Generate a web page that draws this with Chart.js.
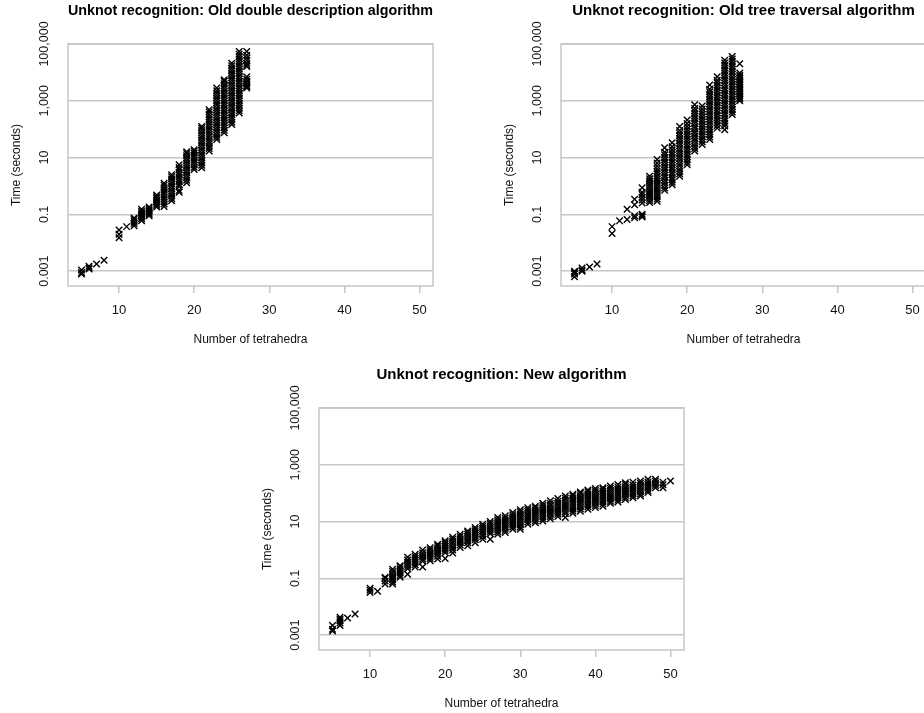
<!DOCTYPE html>
<html lang="en">
<head>
  <meta charset="UTF-8">
  <title>Unknot recognition timings</title>
  <script src="https://cdn.jsdelivr.net/npm/chart.js"></script>
  <style>
    body {
      margin: 0;
      padding: 0;
      background: #fff;
      width: 924px;
      height: 713px;
      overflow: hidden;
      position: relative;
    }
    canvas {
      position: absolute;
    }
    #chartDD { left: 0; top: 0; }
    #chartTT { left: 493px; top: 0; }
    #chartNew { left: 251px; top: 364px; }
  </style>
</head>
<body>
  <canvas id="chartDD" width="462" height="349"></canvas>
  <canvas id="chartTT" width="462" height="349"></canvas>
  <canvas id="chartNew" width="462" height="349"></canvas>
  <script>
    // axis ticks
    const xTickValues = [10, 20, 30, 40, 50];
    const yTickValues = [0.001, 0.1, 10, 1000, 100000];
    const yTickLabels = ['0.001', '0.1', '10', '1,000', '100,000'];

    // Old double description algorithm: tetrahedra count -> running times (s)
    const ddTets = [5, 6, 7, 8, 10, 11, 12, 13, 14, 15, 16, 17, 18, 19, 20, 21, 22, 23, 24, 25, 26, 27];
    const ddTimes = [
      [0.0008, 0.0009, 0.0011],
      [0.0012, 0.0013, 0.0015],
      [0.0018],
      [0.0024],
      [0.015, 0.02, 0.028],
      [0.037],
      [0.04, 0.048, 0.056, 0.066, 0.075],
      [0.06, 0.07, 0.08, 0.09, 0.1, 0.115, 0.13, 0.15],
      [0.09, 0.1, 0.11, 0.125, 0.14, 0.16, 0.18],
      [0.18, 0.21, 0.24, 0.28, 0.32, 0.37, 0.42, 0.48],
      [0.19, 0.23, 0.28, 0.34, 0.41, 0.5, 0.6, 0.72, 0.87, 1.05, 1.25],
      [0.3, 0.36, 0.44, 0.53, 0.65, 0.8, 0.97, 1.2, 1.45, 1.75, 2.1, 2.5],
      [0.6, 0.7, 0.95, 1.15, 1.4, 1.7, 2.05, 2.5, 3.0, 3.7, 4.5, 5.6],
      [1.3, 1.6, 1.95, 2.4, 2.9, 3.5, 4.3, 5.2, 6.3, 7.7, 9.4, 11.5, 14, 16],
      [3.8, 4.6, 5.6, 6.8, 8.2, 10, 12, 14.5, 17, 19],
      [4.4, 5.4, 6.6, 8, 9.8, 12, 14.5, 18, 22, 27, 33, 40, 49, 60, 73, 89, 108, 125],
      [17, 21, 25, 31, 37, 45, 55, 67, 82, 100, 122, 148, 180, 220, 270, 330, 400, 480],
      [43, 52, 63, 77, 94, 115, 140, 170, 208, 255, 310, 380, 460, 560, 690, 840, 1020, 1250, 1520, 1850, 2250, 2800],
      [75, 92, 112, 137, 167, 205, 250, 305, 370, 450, 550, 670, 820, 1000, 1220, 1490, 1820, 2220, 2700, 3300, 4000, 4900, 5500],
      [145, 177, 215, 262, 320, 390, 475, 580, 710, 865, 1055, 1290, 1570, 1920, 2340, 2850, 3480, 4250, 5180, 6320, 7700, 9400, 11500, 14000, 17000, 21000],
      [370, 450, 550, 670, 820, 1000, 1220, 1490, 1820, 2220, 2700, 3300, 4030, 4920, 6000, 7320, 8930, 10900, 13300, 16200, 19800, 24100, 29400, 35900, 43800, 54000],
      [2800, 3100, 3400, 3800, 4300, 4800, 5700, 7000, 16000, 18000, 21000, 26000, 32000, 40000, 54000]
    ];

    // Old tree traversal algorithm
    const ttTets = [5, 6, 7, 8, 10, 11, 12, 13, 14, 15, 16, 17, 18, 19, 20, 21, 22, 23, 24, 25, 26, 27];
    const ttTimes = [
      [0.00063, 0.0008, 0.0009, 0.001],
      [0.001, 0.0011, 0.0013],
      [0.0014],
      [0.0018],
      [0.021, 0.037],
      [0.059],
      [0.066, 0.15],
      [0.076, 0.09, 0.22, 0.34],
      [0.08, 0.09, 0.1, 0.25, 0.32, 0.4, 0.5, 0.6, 0.87],
      [0.26, 0.31, 0.37, 0.44, 0.52, 0.62, 0.74, 0.88, 1.05, 1.25, 1.5, 1.8, 2.2],
      [0.29, 0.35, 0.42, 0.5, 0.6, 0.72, 0.87, 1.05, 1.25, 1.5, 1.8, 2.2, 2.7, 3.3, 4, 5, 6.5, 8.5],
      [0.7, 0.85, 1.05, 1.3, 1.6, 2, 2.4, 3, 3.7, 4.5, 5.5, 6.8, 8.3, 10, 12.5, 15.5, 22],
      [1.1, 1.35, 1.65, 2, 2.5, 3, 3.7, 4.5, 5.5, 6.8, 8.3, 10, 12.5, 15, 19, 24, 33],
      [2.2, 2.7, 3.3, 4, 5, 6.1, 7.5, 9.2, 11.3, 13.9, 17, 21, 26, 32, 39, 48, 59, 72, 90, 125],
      [5.6, 6.9, 8.5, 10.4, 12.8, 15.7, 19.3, 23.7, 29, 36, 44, 54, 66, 81, 100, 125, 160, 210],
      [17, 21, 25, 31, 38, 46, 57, 70, 85, 105, 128, 157, 193, 237, 290, 356, 437, 540, 720],
      [29, 36, 44, 54, 66, 81, 99, 122, 150, 184, 225, 276, 339, 415, 510, 660],
      [43, 53, 65, 80, 98, 120, 148, 181, 222, 272, 334, 410, 500, 615, 755, 925, 1135, 1390, 1710, 2100, 2570, 3600],
      [110, 135, 165, 203, 249, 305, 374, 459, 563, 690, 847, 1040, 1275, 1560, 1920, 2350, 2890, 3540, 4350, 5300, 7000],
      [95, 130, 160, 196, 240, 295, 362, 444, 545, 668, 820, 1000, 1230, 1510, 1850, 2270, 2790, 3420, 4200, 5150, 6300, 7750, 9500, 11600, 14300, 17500, 21500, 27000],
      [330, 405, 497, 610, 748, 918, 1126, 1380, 1700, 2080, 2550, 3130, 3840, 4710, 5780, 7090, 8700, 10700, 13100, 16000, 19700, 24200, 29600, 36000],
      [1000, 1150, 1300, 1500, 1750, 2000, 2300, 2650, 3000, 3500, 4000, 4600, 5300, 6100, 7000, 8000, 9500, 20000]
    ];

    // New algorithm
    const newTets = [5, 6, 7, 8, 10, 11, 12, 13, 14, 15, 16, 17, 18, 19, 20, 21, 22, 23, 24, 25, 26, 27,
      28, 29, 30, 31, 32, 33, 34, 35, 36, 37, 38, 39, 40, 41, 42, 43, 44, 45, 46, 47, 48, 49, 50];
    const newTimes = [
      [0.0014, 0.0016, 0.0022],
      [0.0022, 0.0027, 0.0032, 0.0037, 0.0043],
      [0.004],
      [0.0056],
      [0.032, 0.038, 0.045],
      [0.035],
      [0.063, 0.08, 0.1, 0.11],
      [0.063, 0.075, 0.09, 0.1, 0.12, 0.145, 0.175, 0.21],
      [0.11, 0.13, 0.155, 0.185, 0.22, 0.26, 0.28],
      [0.14, 0.22, 0.26, 0.31, 0.37, 0.44, 0.55],
      [0.25, 0.3, 0.36, 0.43, 0.51, 0.6, 0.7],
      [0.25, 0.4, 0.47, 0.56, 0.67, 0.8, 1.0],
      [0.42, 0.5, 0.6, 0.72, 0.86, 1.02, 1.2],
      [0.48, 0.6, 0.72, 0.85, 1.0, 1.2, 1.4, 1.6],
      [0.5, 0.8, 0.95, 1.13, 1.35, 1.6, 1.85, 2.1],
      [0.78, 1.0, 1.2, 1.42, 1.7, 2.0, 2.4, 2.8],
      [1.23, 1.5, 1.8, 2.1, 2.5, 3.0, 3.6],
      [1.4, 1.8, 2.1, 2.5, 3.0, 3.5, 4.1, 4.7],
      [1.8, 2.3, 2.7, 3.2, 3.8, 4.5, 5.3, 6.2],
      [2.4, 3.0, 3.5, 4.2, 4.9, 5.8, 6.9, 8.1],
      [2.4, 3.7, 4.4, 5.2, 6.1, 7.2, 8.5, 10],
      [3.6, 4.3, 5, 6, 7, 8.3, 9.8, 11.7, 14],
      [4.1, 4.9, 5.8, 6.8, 8, 9.5, 11.3, 13.4, 16],
      [5.4, 6.4, 7.5, 8.9, 10.5, 12.4, 14.7, 17.5, 21],
      [5.4, 6.5, 7.7, 9.2, 11, 13, 15.5, 18.5, 22, 26],
      [8.1, 9.6, 11.5, 13.5, 16, 19, 22.5, 26.5, 31],
      [9.1, 10.8, 12.9, 15.3, 18.2, 21.6, 25.7, 30.5, 35],
      [10.5, 12.5, 15, 18, 21.5, 25.5, 30.5, 36.5, 44],
      [12.6, 15, 18, 21.5, 25.6, 30.6, 36.5, 43.5, 54],
      [15, 18, 21.5, 25.7, 30.7, 36.7, 43.8, 52.3, 65],
      [14, 19, 22.5, 27, 32.5, 38.5, 46, 55, 66, 79],
      [19.5, 23.5, 28, 33.5, 40, 48, 57, 68, 81, 91],
      [23, 28, 33.5, 40, 48, 57, 68, 81, 97, 110],
      [27, 33, 39, 47, 56, 66, 79, 94, 112, 129],
      [31, 37, 44, 52, 62, 74, 88, 105, 125, 145],
      [35, 42, 50, 59, 70, 83, 99, 118, 140, 155],
      [44, 52, 62, 74, 88, 104, 124, 148, 178],
      [49, 58, 69, 82, 98, 116, 138, 165, 204],
      [60, 71, 85, 101, 120, 143, 170, 202, 234],
      [69, 82, 97, 115, 137, 163, 194, 245],
      [79, 94, 112, 133, 158, 188, 224, 270],
      [105, 125, 149, 177, 210, 250, 310],
      [155, 185, 220, 262, 310],
      [155, 200, 245],
      [270]
    ];

    const GRID = '#c6c6c6';
    const FONT = "'Liberation Sans', Arial, Helvetica, sans-serif";

    function toPoints(tets, times) {
      const pts = [];
      tets.forEach((n, i) => {
        times[i].forEach(t => pts.push({ x: n, y: t }));
      });
      return pts;
    }

    // box round the plot and rotated y tick labels
    const framePlugin = {
      id: 'frame',
      beforeDatasetsDraw(chart) {
        const { ctx, chartArea: a } = chart;
        ctx.save();
        ctx.strokeStyle = GRID;
        ctx.lineWidth = 1.5;
        ctx.strokeRect(a.left, a.top, a.right - a.left, a.bottom - a.top);
        ctx.restore();
      },
      afterDraw(chart) {
        const { ctx } = chart;
        const ys = chart.scales.y;
        ctx.save();
        ctx.fillStyle = '#111';
        ctx.font = '12.5px ' + FONT;
        ctx.textAlign = 'center';
        ctx.textBaseline = 'middle';
        yTickValues.forEach((v, i) => {
          const py = ys.getPixelForValue(v);
          ctx.save();
          ctx.translate(45, py);
          ctx.rotate(-Math.PI / 2);
          ctx.fillText(yTickLabels[i], 0, 0);
          ctx.restore();
        });
        ctx.restore();
      }
    };

    function makeChart(id, title, tets, times) {
      const ctx = document.getElementById(id).getContext('2d');
      return new Chart(ctx, {
        type: 'scatter',
        data: {
          datasets: [{
            data: toPoints(tets, times),
            pointStyle: 'crossRot',
            pointRadius: 4.6,
            pointHoverRadius: 4.6,
            borderColor: '#000',
            backgroundColor: 'rgba(0,0,0,0)',
            borderWidth: 1.4
          }]
        },
        options: {
          responsive: false,
          animation: false,
          devicePixelRatio: 1,
          events: [],
          layout: { padding: { left: 0, top: 0, right: 29, bottom: 0 } },
          plugins: {
            legend: { display: false },
            tooltip: { enabled: false },
            title: {
              display: true,
              text: title,
              fullSize: false,
              color: '#000',
              font: { family: FONT, size: 15, weight: 'bold', lineHeight: 1.2 },
              padding: { top: 2, bottom: 24 }
            }
          },
          scales: {
            x: {
              type: 'linear',
              min: 3.2,
              max: 51.8,
              afterBuildTicks: s => { s.ticks = xTickValues.map(v => ({ value: v })); },
              afterFit: s => { s.height = 63; },
              grid: { drawOnChartArea: false, drawTicks: true, tickLength: 7, color: GRID, lineWidth: 1.5 },
              border: { display: false },
              ticks: { color: '#111', font: { family: FONT, size: 13 }, padding: 10, maxRotation: 0 },
              title: {
                display: true,
                text: 'Number of tetrahedra',
                color: '#111',
                font: { family: FONT, size: 12 },
                padding: { top: 0, bottom: 2 }
              }
            },
            y: {
              type: 'logarithmic',
              min: 0.000324,
              max: 100000,
              afterBuildTicks: s => { s.ticks = yTickValues.map(v => ({ value: v })); },
              afterFit: s => { s.width = 68; },
              grid: { drawTicks: false, color: GRID, lineWidth: 1.5 },
              border: { display: false },
              ticks: { display: false },
              title: {
                display: true,
                text: 'Time (seconds)',
                color: '#111',
                font: { family: FONT, size: 12 },
                padding: { top: 9, bottom: 0 }
              }
            }
          }
        },
        plugins: [framePlugin]
      });
    }

    makeChart('chartDD', 'Unknot recognition: Old double description algorithm', ddTets, ddTimes);
    makeChart('chartTT', 'Unknot recognition: Old tree traversal algorithm', ttTets, ttTimes);
    makeChart('chartNew', 'Unknot recognition: New algorithm', newTets, newTimes);
  </script>
</body>
</html>
